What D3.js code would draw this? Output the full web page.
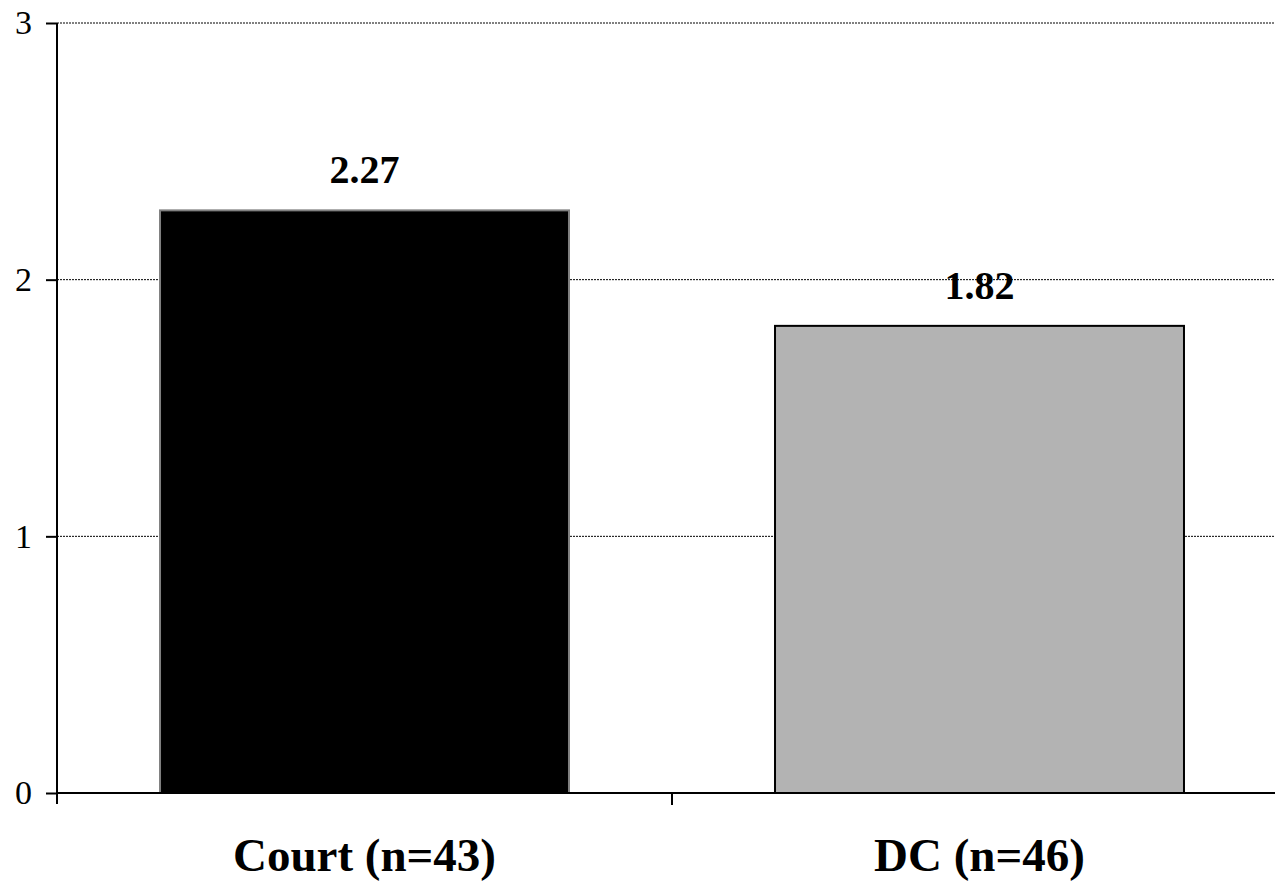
<!DOCTYPE html>
<html>
<head>
<meta charset="utf-8">
<script src="https://cdn.jsdelivr.net/npm/d3@7"></script>
<style>
  html, body { margin: 0; padding: 0; background: #fff; }
  svg { display: block; font-family: "Liberation Serif", "Times New Roman", serif; }
</style>
</head>
<body>
<svg id="chart" width="1275" height="883"></svg>
<script>
// Mean scores by group
const categories = ["Court (n=43)", "DC (n=46)"];
const values = [2.27, 1.82];
const valueLabels = ["2.27", "1.82"];
const yTicks = [0, 1, 2, 3];

const fills = ["#000000", "#b3b3b3"];
const strokes = ["#808080", "#000000"];

const svg = d3.select("#chart");
const plotLeft = 57, plotTop = 23, plotBottom = 793, plotRight = 1287;

const x = d3.scaleBand().domain(categories).range([plotLeft, plotRight]).paddingInner(0.335).paddingOuter(0.1675);
const xOuter = d3.scaleBand().domain(categories).range([plotLeft, plotRight]);
const y = d3.scaleLinear().domain([0, 3]).range([plotBottom, plotTop]);

// gridlines
svg.append("g").selectAll("line").data(yTicks.filter(d => d > 0)).join("line")
  .attr("x1", plotLeft).attr("x2", 1275)
  .attr("y1", d => y(d)).attr("y2", d => y(d))
  .attr("stroke", "#000").attr("stroke-width", 1).attr("stroke-dasharray", "2,1");

// bars
svg.append("g").selectAll("rect").data(values).join("rect")
  .attr("x", (d, i) => x(categories[i]))
  .attr("y", d => y(d))
  .attr("width", x.bandwidth())
  .attr("height", d => plotBottom - y(d))
  .attr("fill", (d, i) => fills[i])
  .attr("stroke", (d, i) => strokes[i])
  .attr("stroke-width", 2);

// value labels
svg.append("g").selectAll("text").data(values).join("text")
  .attr("x", (d, i) => x(categories[i]) + x.bandwidth() / 2)
  .attr("y", d => y(d) - 27)
  .attr("text-anchor", "middle")
  .attr("font-weight", "bold")
  .attr("font-size", 40)
  .text((d, i) => valueLabels[i]);

// y axis
const yAxis = svg.append("g").attr("transform", `translate(${plotLeft},0)`)
  .call(d3.axisLeft(y).tickValues(yTicks).tickFormat(d3.format("d")).tickSize(11).tickPadding(14));
yAxis.select(".domain").attr("stroke-width", 2).attr("d", `M0,${plotTop}V${plotBottom + 11}`);
yAxis.selectAll(".tick line").attr("stroke-width", 2);
yAxis.selectAll(".tick text").attr("font-size", 34).attr("font-family", "Liberation Serif, serif").attr("fill", "#000");

// x axis
const xAxis = svg.append("g").attr("transform", `translate(0,${plotBottom})`);
xAxis.append("line").attr("x1", plotLeft).attr("x2", 1275).attr("y1", 0).attr("y2", 0)
  .attr("stroke", "#000").attr("stroke-width", 2);
xAxis.selectAll("line.tk").data(categories.slice(1)).join("line").attr("class", "tk")
  .attr("x1", d => xOuter(d)).attr("x2", d => xOuter(d))
  .attr("y1", 0).attr("y2", 12)
  .attr("stroke", "#000").attr("stroke-width", 2);
xAxis.selectAll("text").data(categories).join("text")
  .attr("x", d => xOuter(d) + xOuter.bandwidth() / 2)
  .attr("y", 78)
  .attr("text-anchor", "middle")
  .attr("font-weight", "bold")
  .attr("font-size", 47)
  .text(d => d);
</script>
</body>
</html>
